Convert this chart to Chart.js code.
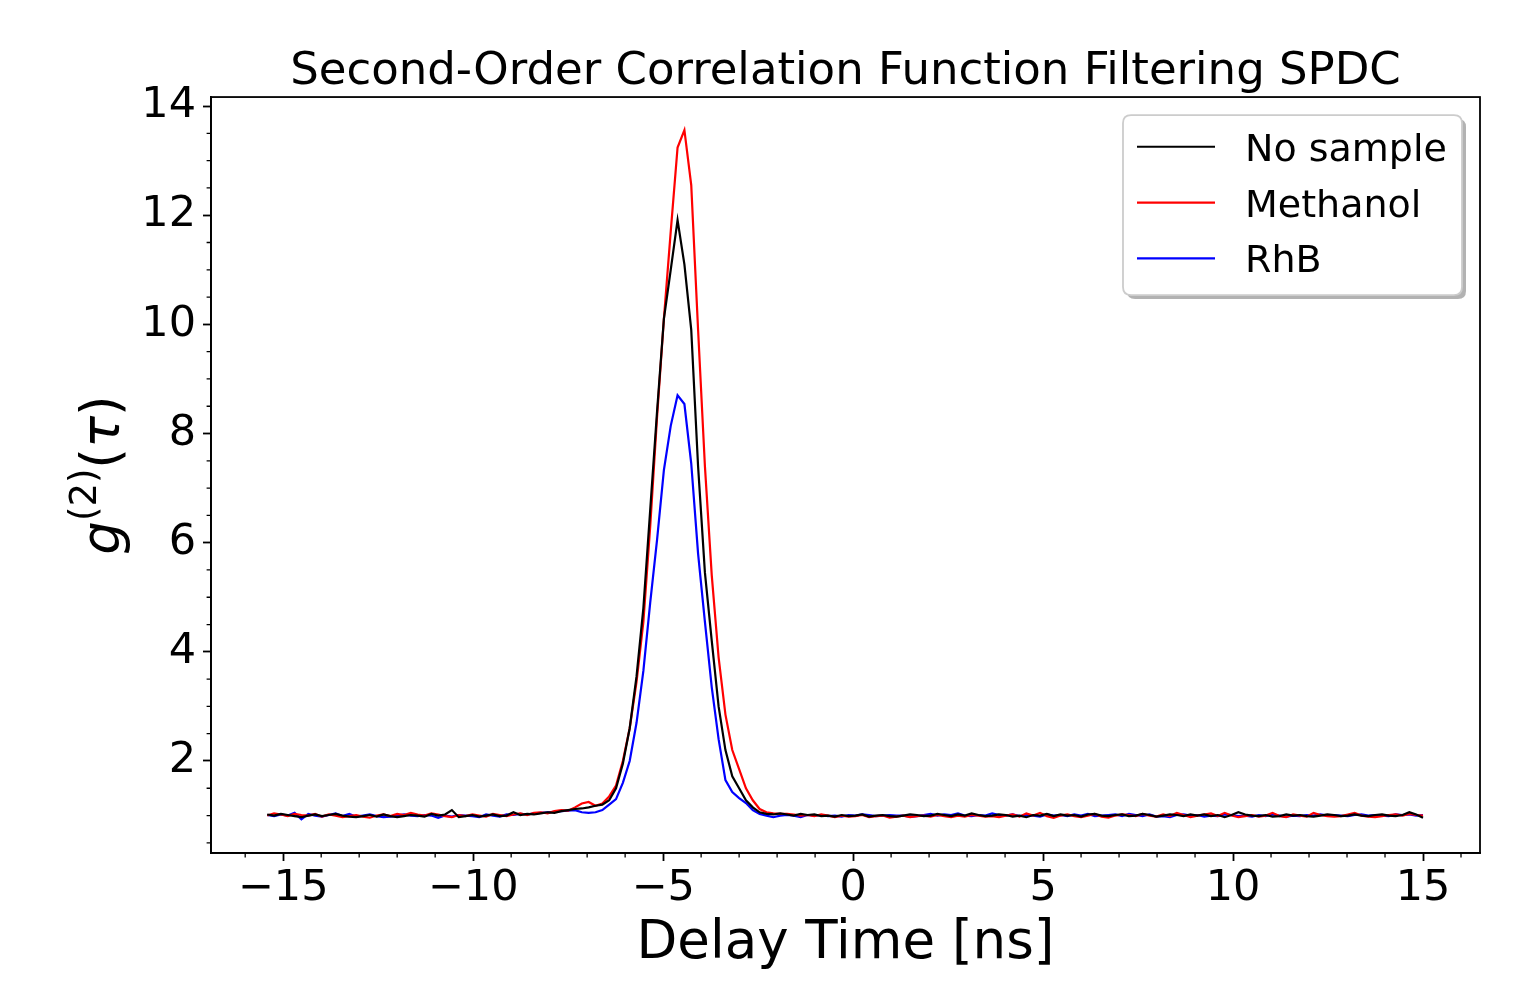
<!DOCTYPE html>
<html><head><meta charset="utf-8">
<script src="https://cdn.jsdelivr.net/npm/chart.js@4.4.1/dist/chart.umd.min.js"></script>
<style>html,body{margin:0;padding:0;background:#fff;} canvas{display:block;}</style>
</head><body>
<canvas id="c" width="1527" height="995" style="width:1527px;height:995px"></canvas>
<script>
// ---- data ----
const delayTime = [
-15.42,-15.24,-15.06,-14.88,-14.70,-14.52,-14.34,-14.16,-13.98,-13.80,
-13.62,-13.44,-13.26,-13.08,-12.90,-12.72,-12.54,-12.36,-12.18,-12.00,
-11.82,-11.64,-11.46,-11.28,-11.10,-10.92,-10.74,-10.56,-10.38,-10.20,
-10.02,-9.84,-9.66,-9.48,-9.30,-9.12,-8.94,-8.76,-8.58,-8.40,
-8.22,-8.04,-7.86,-7.68,-7.50,-7.32,-7.14,-6.96,-6.78,-6.60,
-6.42,-6.24,-6.06,-5.88,-5.70,-5.52,-5.34,-5.16,-4.98,-4.80,
-4.62,-4.44,-4.26,-4.08,-3.90,-3.72,-3.54,-3.36,-3.18,-3.00,
-2.82,-2.64,-2.46,-2.28,-2.10,-1.92,-1.74,-1.56,-1.38,-1.20,
-1.02,-0.84,-0.66,-0.48,-0.30,-0.12,0.06,0.24,0.42,0.60,
0.78,0.96,1.14,1.32,1.50,1.68,1.86,2.04,2.22,2.40,
2.58,2.76,2.94,3.12,3.30,3.48,3.66,3.84,4.02,4.20,
4.38,4.56,4.74,4.92,5.10,5.28,5.46,5.64,5.82,6.00,
6.18,6.36,6.54,6.72,6.90,7.08,7.26,7.44,7.62,7.80,
7.98,8.16,8.34,8.52,8.70,8.88,9.06,9.24,9.42,9.60,
9.78,9.96,10.14,10.32,10.50,10.68,10.86,11.04,11.22,11.40,
11.58,11.76,11.94,12.12,12.30,12.48,12.66,12.84,13.02,13.20,
13.38,13.56,13.74,13.92,14.10,14.28,14.46,14.64,14.82,15.00
];

const noSample = [
1.02,1.00,1.03,1.01,0.99,0.97,1.00,1.02,0.99,1.01,
1.03,1.00,0.98,0.97,0.99,1.01,0.98,1.02,0.99,0.97,
0.99,1.01,1.00,0.98,1.03,1.00,1.02,1.10,0.97,0.99,
1.01,0.98,1.00,1.02,0.99,1.00,1.06,1.01,1.03,1.02,
1.04,1.06,1.05,1.08,1.10,1.12,1.13,
1.15,1.18,1.20,1.28,1.50,1.95,2.60,3.55,4.80,6.60,
8.40,10.10,11.00,11.91,11.10,9.90,7.40,5.45,4.20,3.00,
2.20,1.72,1.50,1.28,1.15,1.06,1.03,1.02,1.04,
1.02,1.00,1.03,1.01,1.02,0.99,1.00,0.98,1.01,0.99,
1.00,1.02,0.98,1.00,1.01,0.99,0.98,1.00,1.02,1.01,
0.99,1.00,1.03,1.01,0.99,1.02,1.00,1.04,1.01,0.99,
1.00,1.02,1.01,0.98,1.00,0.97,1.01,1.00,1.03,0.99,
1.02,1.00,1.01,0.98,1.02,1.03,1.00,0.99,1.01,1.02,
0.99,1.00,1.03,1.01,0.98,1.00,1.02,1.01,0.99,1.02,
1.00,1.02,0.99,1.01,0.97,1.01,1.06,1.02,1.00,0.99,
1.01,0.98,0.99,1.02,1.00,1.01,0.99,0.98,1.00,1.02,
1.01,0.99,1.00,1.02,1.00,0.99,1.01,1.02,1.00,0.99,
1.01,1.06,1.02,0.96
];

const methanol = [
1.00,1.04,1.02,0.99,1.03,1.01,1.00,1.03,0.98,1.02,
1.00,0.97,0.99,1.01,0.98,0.96,1.00,1.02,0.99,1.03,
1.01,1.05,1.02,1.00,1.04,1.02,0.99,0.97,1.01,0.99,
1.02,1.00,0.98,1.03,1.01,0.99,1.02,1.04,1.01,1.05,
1.06,1.04,1.08,1.10,1.09,1.15,1.22,
1.25,1.18,1.22,1.35,1.55,2.00,2.60,3.45,4.55,6.30,
8.30,10.10,11.70,13.24,13.56,12.55,9.90,7.40,5.40,3.90,
2.85,2.20,1.85,1.50,1.28,1.12,1.06,1.04,1.03,
1.03,1.02,1.00,1.01,0.99,1.02,1.00,0.97,1.00,0.98,
0.99,1.01,0.97,0.99,1.00,0.96,0.98,1.00,0.97,0.99,
1.00,0.98,1.01,0.99,0.97,1.00,0.98,1.01,1.00,0.98,
0.99,0.97,1.00,1.02,0.98,1.04,1.00,1.05,0.99,0.96,
1.00,1.02,0.99,0.97,1.00,1.03,0.98,0.96,1.00,1.02,
1.01,0.99,1.03,1.00,0.98,1.02,0.99,1.05,1.01,0.97,
1.00,1.02,1.04,0.99,1.05,1.00,0.97,0.99,1.01,0.98,
1.00,1.05,0.99,0.97,1.02,1.00,0.98,1.05,1.01,0.99,
0.98,0.99,1.02,1.05,1.00,0.98,0.97,0.99,1.01,1.02,
1.00,1.03,1.01,1.00
];

const rhb = [
1.01,0.99,1.02,1.00,1.05,0.93,1.03,1.00,0.98,1.01,
1.04,0.99,1.03,0.98,1.00,1.02,0.99,0.97,0.98,1.00,
1.02,1.00,0.99,1.01,1.00,0.96,1.00,0.98,1.01,1.00,
0.99,0.97,1.02,1.00,0.98,1.02,1.01,1.03,1.02,1.04,
1.05,1.06,1.07,1.08,1.09,1.10,1.06,
1.05,1.06,1.10,1.20,1.30,1.60,2.00,2.70,3.65,4.90,
6.05,7.33,8.14,8.70,8.54,7.45,5.80,4.55,3.35,2.40,
1.65,1.43,1.32,1.23,1.10,1.03,1.00,0.97,1.00,
1.01,1.00,0.97,1.01,1.00,1.01,0.99,1.00,0.98,1.01,
1.00,1.02,1.01,0.99,1.00,1.01,1.00,1.00,0.98,0.99,
1.01,1.03,1.00,1.02,1.01,1.04,1.00,0.99,1.01,1.00,
1.04,1.01,1.00,1.02,0.99,1.01,1.00,0.98,1.02,1.00,
1.01,0.99,1.02,1.00,1.03,0.99,1.00,1.01,1.02,0.99,
1.03,1.01,0.99,1.02,0.98,0.99,0.97,1.01,1.02,1.00,
1.01,0.98,1.00,0.99,1.02,1.01,0.99,1.00,0.98,1.01,
0.99,1.02,1.00,0.98,1.00,0.99,1.01,1.00,1.02,1.00,
1.01,1.00,0.99,1.01,1.02,1.00,1.01,1.00,0.99,1.02,
1.01,1.02,1.00,1.01
];

const seriesNames = ['No sample', 'Methanol', 'RhB'];
const xTickValues = [-15, -10, -5, 0, 5, 10, 15];
const yTickValues = [2, 4, 6, 8, 10, 12, 14];
const titleText = 'Second-Order Correlation Function Filtering SPDC';
const xTitleText = 'Delay Time [ns]';

// ---- styling ----
const FONT = "'DejaVu Sans', 'Liberation Sans', sans-serif";
const colors = ['#000000', '#ff0000', '#0000ff'];
const seriesData = [noSample, methanol, rhb];

function toPoints(ys) { return delayTime.map((t, i) => ({ x: t, y: ys[i] })); }

const extrasPlugin = {
  id: 'extras',
  afterDraw(chart) {
    const ctx = chart.ctx;
    const a = chart.chartArea;
    const xs = chart.scales.x, ys = chart.scales.y;
    ctx.save();
    // frame (spines)
    ctx.strokeStyle = '#000';
    ctx.lineWidth = 1.8;
    ctx.strokeRect(a.left, a.top, a.right - a.left, a.bottom - a.top);
    // minor ticks
    ctx.lineWidth = 1.3;
    ctx.beginPath();
    for (let v = -16; v <= 16; v++) {
      if (v % 5 === 0) continue;
      const px = xs.getPixelForValue(v);
      if (px < a.left || px > a.right) continue;
      ctx.moveTo(px, a.bottom); ctx.lineTo(px, a.bottom + 4.4);
    }
    for (let v = 0.5; v <= 14.1; v += 0.5) {
      if (Math.abs(v / 2 - Math.round(v / 2)) < 1e-9) continue;
      const py = ys.getPixelForValue(v);
      if (py < a.top || py > a.bottom) continue;
      ctx.moveTo(a.left, py); ctx.lineTo(a.left - 4.4, py);
    }
    ctx.stroke();

    // y axis title: g^(2)(tau)
    const big = 53, small = Math.round(53 * 0.7);
    const parts = [
      { t: 'g', f: 'italic ' + big + 'px ' + FONT, dy: 0 },
      { t: '(2)', f: small + 'px ' + FONT, dy: -23 },
      { t: '(', f: big + 'px ' + FONT, dy: 0 },
      { t: '\u03c4', f: 'italic ' + big + 'px ' + FONT, dy: 0 },
      { t: ')', f: big + 'px ' + FONT, dy: 0 }
    ];
    let total = 0;
    parts.forEach(p => { ctx.font = p.f; p.w = ctx.measureText(p.t).width; total += p.w; });
    ctx.translate(119, (a.top + a.bottom) / 2);
    ctx.rotate(-Math.PI / 2);
    ctx.fillStyle = '#000';
    ctx.textBaseline = 'alphabetic';
    ctx.textAlign = 'left';
    let cx = -total / 2;
    parts.forEach(p => { ctx.font = p.f; ctx.fillText(p.t, cx, p.dy); cx += p.w; });
    ctx.restore();

    // legend
    ctx.save();
    const lx = a.right - 357, ly = a.top + 18, lw = 339, lh = 180, r = 8;
    const rr = (x, y, w, h) => {
      ctx.beginPath();
      ctx.moveTo(x + r, y);
      ctx.lineTo(x + w - r, y); ctx.quadraticCurveTo(x + w, y, x + w, y + r);
      ctx.lineTo(x + w, y + h - r); ctx.quadraticCurveTo(x + w, y + h, x + w - r, y + h);
      ctx.lineTo(x + r, y + h); ctx.quadraticCurveTo(x, y + h, x, y + h - r);
      ctx.lineTo(x, y + r); ctx.quadraticCurveTo(x, y, x + r, y);
      ctx.closePath();
    };
    rr(lx + 4, ly + 4, lw, lh);
    ctx.fillStyle = 'rgba(0,0,0,0.3)';
    ctx.fill();
    rr(lx, ly, lw, lh);
    ctx.fillStyle = '#ffffff';
    ctx.fill();
    ctx.strokeStyle = '#cccccc';
    ctx.lineWidth = 1.8;
    ctx.stroke();
    ctx.font = '38px ' + FONT;
    ctx.textBaseline = 'alphabetic';
    ctx.textAlign = 'left';
    seriesNames.forEach((name, i) => {
      const yy = ly + 31.7 + i * 55.8;
      ctx.strokeStyle = colors[i];
      ctx.lineWidth = 2.2;
      ctx.beginPath();
      ctx.moveTo(lx + 14, yy); ctx.lineTo(lx + 92, yy);
      ctx.stroke();
      ctx.fillStyle = '#000';
      ctx.fillText(name, lx + 122, yy + 14);
    });
    ctx.restore();
  }
};

new Chart(document.getElementById('c'), {
  type: 'line',
  data: {
    datasets: seriesNames.map((name, i) => ({
      label: name,
      data: toPoints(seriesData[i]),
      borderColor: colors[i],
      backgroundColor: colors[i],
      borderWidth: 2.2,
      pointRadius: 0,
      fill: false,
      tension: 0
    }))
  },
  options: {
    responsive: false,
    animation: false,
    devicePixelRatio: 1,
    layout: { padding: { top: 38, right: 47, bottom: 0, left: 0 } },
    plugins: {
      legend: { display: false },
      tooltip: { enabled: false },
      title: {
        display: true, text: titleText, fullSize: false, color: '#000',
        font: { family: FONT, size: 45, weight: 'normal', lineHeight: 1.09 },
        padding: { top: 10, bottom: 0 }
      }
    },
    scales: {
      x: {
        type: 'linear', min: -16.9, max: 16.5,
        afterBuildTicks: s => { s.ticks = xTickValues.map(v => ({ value: v })); },
        afterFit: s => { s.height = 142; },
        ticks: {
          color: '#000', font: { family: FONT, size: 43 }, padding: 2,
          maxRotation: 0, autoSkip: false,
          callback: v => String(v).replace('-', '\u2212')
        },
        grid: { drawOnChartArea: false, drawTicks: true, tickLength: 8, tickWidth: 1.8, tickColor: '#000' },
        border: { display: true, color: '#000', width: 1.8 },
        title: {
          display: true, text: xTitleText, color: '#000',
          font: { family: FONT, size: 53, lineHeight: 1.2 },
          padding: { top: 0, bottom: 19 }
        }
      },
      y: {
        type: 'linear', min: 0.314, max: 14.165,
        afterBuildTicks: s => { s.ticks = yTickValues.map(v => ({ value: v })); },
        afterFit: s => { s.width = 211; },
        ticks: { color: '#000', font: { family: FONT, size: 43 }, padding: 7, autoSkip: false },
        grid: { drawOnChartArea: false, drawTicks: true, tickLength: 8, tickWidth: 1.8, tickColor: '#000' },
        border: { display: true, color: '#000', width: 1.8 }
      }
    }
  },
  plugins: [extrasPlugin]
});
</script>
</body></html>
